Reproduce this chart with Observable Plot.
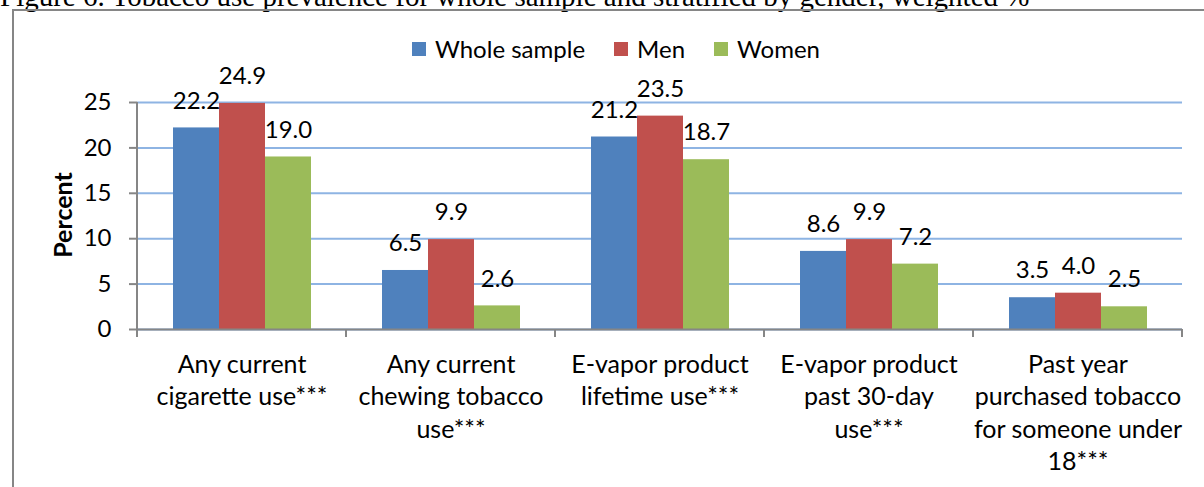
<!DOCTYPE html>
<html>
<head>
<meta charset="utf-8">
<script src="https://cdn.jsdelivr.net/npm/d3@7"></script>
<script src="https://cdn.jsdelivr.net/npm/@observablehq/plot@0.6"></script>
<style>
  html, body { margin: 0; padding: 0; background: #fff; }
  #wrap { position: relative; width: 1204px; height: 487px; overflow: hidden; font-family: Lato, sans-serif; color: #000; }
  #title { position: absolute; left: 0; top: -18px; font-family: "Liberation Serif", "Times New Roman", serif; font-size: 29px; line-height: 29px; white-space: nowrap; }
  #box { position: absolute; left: 12px; top: 9px; width: 1400px; height: 700px; border-left: 2px solid #868686; border-top: 2px solid #868686; }
  #chart { position: absolute; left: 0; top: 0; }
  #legend { position: absolute; left: 412px; top: 34px; display: flex; gap: 29px; font-size: 24px; line-height: 29px; }
  #legend .item { display: flex; align-items: center; gap: 9px; }
  #legend .sw { width: 14px; height: 14px; display: inline-block; }
  #ylabel { position: absolute; left: 62px; top: 215px; transform: translate(-50%, -50%) rotate(-90deg); font-weight: bold; font-size: 25px; white-space: nowrap; }
</style>
</head>
<body>
<div id="wrap">
  <div id="title"></div>
  <div id="box"></div>
  <div id="chart"></div>
  <div id="legend"></div>
  <div id="ylabel"></div>
</div>
<script>
const titleText = "Figure 6. Tobacco use prevalence for whole sample and stratified by gender, weighted %";
const yLabel = "Percent";
const categories = [
  "Any current\ncigarette use***",
  "Any current\nchewing tobacco\nuse***",
  "E-vapor product\nlifetime use***",
  "E-vapor product\npast 30-day\nuse***",
  "Past year\npurchased tobacco\nfor someone under\n18***"
];
const series = ["Whole sample", "Men", "Women"];
const wholeSample = [22.2, 6.5, 21.2, 8.6, 3.5];
const men = [24.9, 9.9, 23.5, 9.9, 4.0];
const women = [19.0, 2.6, 18.7, 7.2, 2.5];
const colors = ["#4F81BD", "#C0504D", "#9BBB59"];
const yTicks = [0, 5, 10, 15, 20, 25];

const seriesValues = [wholeSample, men, women];
const table = [];
categories.forEach((c, i) => {
  series.forEach((s, j) => table.push({category: c, series: s, value: seriesValues[j][i]}));
});

document.getElementById("title").textContent = titleText;
document.getElementById("ylabel").textContent = yLabel;
const legend = document.getElementById("legend");
series.forEach((s, j) => {
  const it = document.createElement("div");
  it.className = "item";
  const sw = document.createElement("span");
  sw.className = "sw";
  sw.style.background = colors[j];
  const tx = document.createElement("span");
  tx.textContent = s;
  it.appendChild(sw); it.appendChild(tx);
  legend.appendChild(it);
});

const plot = Plot.plot({
  width: 1204,
  height: 487,
  marginLeft: 136,
  marginRight: 21,
  marginTop: 102,
  marginBottom: 158,
  style: {fontFamily: "Lato, sans-serif", fontSize: "24px", color: "#000", background: "transparent", overflow: "visible"},
  fx: {domain: categories, padding: 0, axis: null},
  x: {domain: series, paddingInner: 0, paddingOuter: 0.75, axis: null},
  y: {domain: [0, 25]},
  color: {domain: series, range: colors},
  marks: [
    Plot.gridY(yTicks, {stroke: "#8EB4E3", strokeOpacity: 1, strokeWidth: 2}),
    Plot.barY(table, {fx: "category", x: "series", y: "value", fill: "series"}),
    Plot.ruleY([0], {stroke: "#868686", strokeWidth: 2}),
    Plot.text(table, {fx: "category", x: "series", y: "value", text: d => d.value.toFixed(1), dy: -27, fontSize: 24, fill: "#000"}),
    Plot.text(categories, {fx: d => d, text: d => d, frameAnchor: "bottom", lineAnchor: "top", dy: 20, lineHeight: 1.3, fontSize: 25, fill: "#000"}),
    Plot.axisY(yTicks, {anchor: "left", tickSize: 8, tickPadding: 18, label: null, stroke: "#868686", strokeWidth: 2, fontSize: 24})
  ]
});

// y axis line and category boundary ticks, placed through the plot's scales
const fx = plot.scale("fx");
const y = plot.scale("y");
const svg = d3.select(plot);
const g = svg.append("g").attr("stroke", "#868686").attr("stroke-width", 2);
const y0 = y.apply(0), yTop = y.apply(25);
const bounds = categories.map(c => fx.apply(c));
bounds.push(fx.apply(categories[categories.length - 1]) + fx.bandwidth);
g.append("line").attr("x1", bounds[0]).attr("x2", bounds[0]).attr("y1", yTop).attr("y2", y0 + 8);
bounds.forEach(b => g.append("line").attr("x1", b).attr("x2", b).attr("y1", y0).attr("y2", y0 + 8));

document.getElementById("chart").appendChild(plot);
</script>
</body>
</html>
